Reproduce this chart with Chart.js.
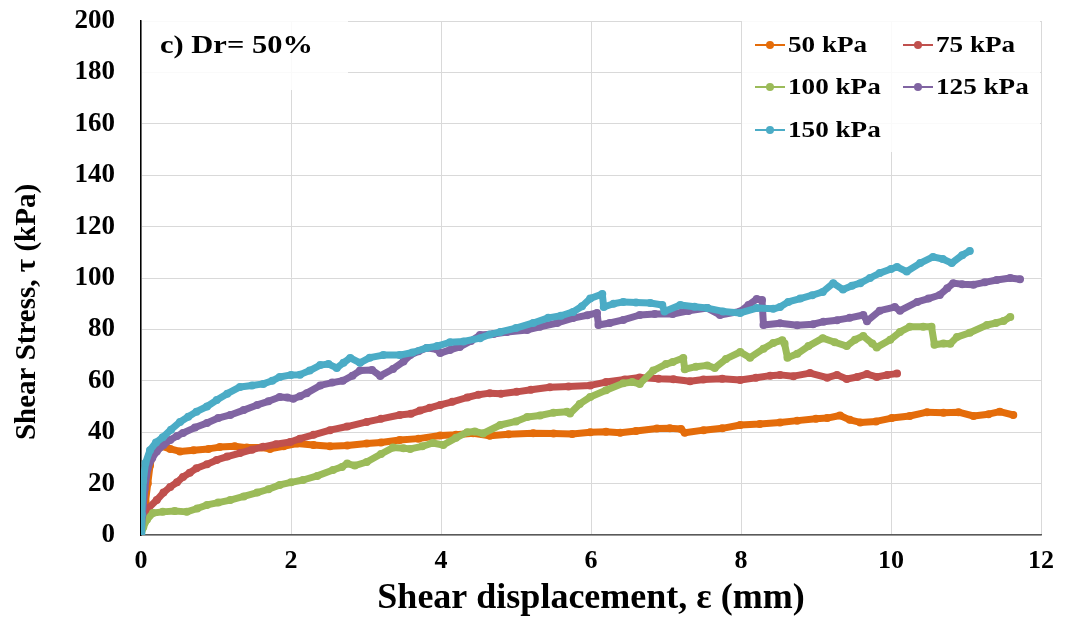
<!DOCTYPE html>
<html>
<head>
<meta charset="utf-8">
<script src="https://cdn.jsdelivr.net/npm/chart.js@4.4.1/dist/chart.umd.min.js"></script>
<style>
  body { margin: 0; background: #fff; }
  canvas { display: block; }
</style>
</head>
<body>
<canvas id="myChart" width="1066" height="617"></canvas>
<script>
// shear displacement (mm), shear stress (kPa)
const s50 = [[0,0],[0.03,6],[0.06,13],[0.09,20],[0.12,27],[0.15,31],[0.2,33.5],[0.28,34.5],[0.39,33.5],[0.52,32.5],
  [0.7,33],[0.9,33.5],[1.05,34.2],[1.25,34.5],[1.41,34],[1.6,34],[1.72,33.5],[1.9,34.5],[2.08,35.6],[2.3,35],
  [2.52,34.5],[2.75,34.8],[3.01,35.6],[3.2,36],[3.45,37],[3.7,37.5],[3.99,38.7],[4.2,39],[4.43,39.6],[4.65,38.6],
  [4.9,39.2],[5.23,39.6],[5.5,39.5],[5.75,39.3],[5.99,40],[6.2,40.2],[6.39,39.8],[6.6,40.5],[6.88,41.4],[7.05,41.5],
  [7.2,41.2],[7.25,39.8],[7.5,40.8],[7.75,41.5],[7.99,42.8],[8.25,43.2],[8.52,43.8],[8.75,44.5],[9.0,45.2],[9.15,45.5],
  [9.32,46.5],[9.45,44.8],[9.59,43.8],[9.8,44.2],[10.01,45.5],[10.25,46.3],[10.48,47.8],[10.7,47.6],[10.9,47.8],[11.1,46.3],
  [11.3,47],[11.45,48],[11.63,46.7]];

const s75 = [[0,0],[0.02,5],[0.05,8],[0.1,10.5],[0.21,13.6],[0.3,16.5],[0.39,18.7],[0.48,20.5],[0.56,22.6],[0.65,24.2],
  [0.74,26],[0.88,27.5],[1.01,29.2],[1.15,30.5],[1.32,31.9],[1.48,33.2],[1.63,34.3],[1.8,35.3],[1.99,36.2],[2.12,37.5],
  [2.3,39],[2.52,40.8],[2.75,42.2],[3.01,44],[3.2,45.2],[3.45,46.7],[3.6,47.2],[3.72,48.4],[3.85,49.5],[3.99,50.6],
  [4.15,51.8],[4.35,53.5],[4.5,54.6],[4.65,55.2],[4.8,55],[5.01,55.7],[5.2,56.5],[5.45,57.5],[5.7,57.8],[5.99,58.2],
  [6.2,59.5],[6.45,60.5],[6.65,61.3],[6.9,60.8],[7.1,60.6],[7.32,59.8],[7.5,60.5],[7.75,60.8],[7.99,60.3],[8.2,61.2],
  [8.39,62],[8.52,62.3],[8.7,61.8],[8.92,63],[9.15,61.2],[9.28,62.3],[9.41,60.7],[9.55,61.5],[9.68,62.6],[9.81,61.5],
  [9.95,62.3],[10.08,62.8]];

const s100 = [[0,0],[0.03,3],[0.08,6],[0.16,8.6],[0.29,9],[0.45,9.3],[0.61,9],[0.75,10.3],[0.88,11.7],[1.03,12.6],
  [1.19,13.6],[1.37,15],[1.55,16.5],[1.7,17.8],[1.85,19.5],[2.0,20.5],[2.16,21.4],[2.35,23],[2.56,25.3],[2.68,26.5],
  [2.75,27.8],[2.85,27],[3.01,28.4],[3.2,31.5],[3.36,34],[3.5,33.8],[3.59,33.5],[3.75,34.5],[3.89,35.8],[4.03,35],
  [4.2,37.8],[4.35,40],[4.45,40.3],[4.56,39.5],[4.79,42.8],[5.0,44.2],[5.15,45.9],[5.32,46.5],[5.5,47.6],[5.68,48],
  [5.72,47.3],[5.85,51],[5.99,53.7],[6.2,56.3],[6.43,59],[6.55,59.5],[6.65,58.8],[6.83,64],[7.0,66.5],[7.09,67.3],
  [7.23,68.9],[7.25,64.5],[7.4,65.5],[7.55,66],[7.65,65],[7.8,68.5],[7.99,71.2],[8.12,69],[8.3,72.5],[8.43,74.7],
  [8.55,75.8],[8.58,74.5],[8.62,69],[8.75,70.5],[8.9,73.5],[9.09,76.6],[9.25,75],[9.41,73.5],[9.52,76],[9.63,77.4],
  [9.75,74.5],[9.81,73],[9.99,76],[10.12,79],[10.25,81],[10.43,81],[10.54,81],[10.58,74],[10.7,74.5],[10.79,74.4],
  [10.88,77],[11.05,78.7],[11.28,81.7],[11.4,82.5],[11.5,83.3],[11.59,84.8]];

const s125 = [[0,0],[0.02,8],[0.05,18],[0.09,26],[0.15,30],[0.21,32.5],[0.3,35],[0.39,37],[0.48,38.5],[0.56,39.7],
  [0.72,41.8],[0.88,43.6],[1.03,45.5],[1.19,46.7],[1.37,48.6],[1.55,50.6],[1.7,52],[1.85,53.7],[1.95,53.5],[2.03,53],
  [2.12,54],[2.21,55.2],[2.39,58.2],[2.55,59.3],[2.69,60],[2.82,62],[2.92,64],[3.08,64.2],[3.19,61.9],[3.36,64.6],
  [3.5,67.5],[3.59,70],[3.7,71.5],[3.81,72.8],[3.95,72.2],[3.99,70.8],[4.12,72],[4.25,73.2],[4.4,75.5],[4.52,77.8],
  [4.7,78.2],[4.88,79],[5.15,79.8],[5.32,81],[5.55,82.5],[5.76,84.4],[5.95,85.5],[6.08,86.4],[6.1,81.7],[6.25,82.5],
  [6.43,83.7],[6.65,85.6],[6.85,86],[7.09,86],[7.3,87.2],[7.55,88.3],[7.72,85.6],[7.99,87],[8.1,89.5],[8.21,91.8],
  [8.28,91.4],[8.3,81.7],[8.52,82.4],[8.75,81.6],[8.96,82],[9.1,83],[9.28,83.6],[9.45,84.5],[9.63,85.6],[9.68,83.2],
  [9.85,87.3],[10.05,88.7],[10.12,87.3],[10.35,90.7],[10.5,92],[10.65,93.4],[10.75,96],[10.83,98],[10.95,97.6],[11.1,97.4],
  [11.25,98.3],[11.41,99.2],[11.59,100],[11.72,99.5]];

const s150 = [[0,0],[0.01,8],[0.03,21],[0.06,28],[0.12,33],[0.2,36],[0.29,38],[0.4,41],[0.52,44],[0.63,46],
  [0.74,48],[0.88,50],[1.01,52.5],[1.15,55],[1.32,57.6],[1.48,58.2],[1.63,58.8],[1.75,60],[1.85,61.5],[2.0,62.3],
  [2.12,62.4],[2.25,64],[2.39,66.1],[2.5,66.5],[2.61,65],[2.7,67],[2.79,68.9],[2.92,67],[3.05,69],[3.23,70],
  [3.45,70],[3.62,71],[3.81,72.8],[3.95,73.5],[4.12,75],[4.3,75.3],[4.52,76.6],[4.65,78],[4.79,79],[5.0,80.5],
  [5.23,82.5],[5.43,84.5],[5.6,85.3],[5.76,86.8],[5.88,89],[5.99,92],[6.15,93.8],[6.17,88.7],[6.3,90],[6.43,90.7],
  [6.6,90.5],[6.79,90.3],[6.95,89.5],[6.98,87],[7.19,89.5],[7.38,88.8],[7.55,88.3],[7.76,87],[7.99,86.4],[8.21,88.3],
  [8.43,88],[8.52,88.7],[8.63,90.7],[8.79,92],[8.95,93.3],[9.09,94.6],[9.23,98],[9.36,95.5],[9.48,97],[9.59,98],
  [9.72,100],[9.85,101.9],[10.0,103.5],[10.08,104.3],[10.21,102.5],[10.39,105.8],[10.56,108.2],[10.69,107.4],[10.81,105.8],[10.95,108.9],
  [11.05,110.5]];

const labels = ["50 kPa", "75 kPa", "100 kPa", "125 kPa", "150 kPa"];
const colors = ["#E46C0A", "#C0504D", "#9BBB59", "#8064A2", "#4BACC6"];
const series = [s50, s75, s100, s125, s150];

const serif = "'Liberation Serif', 'Times New Roman', serif";

const datasets = series.map((s, i) => ({
    label: labels[i],
    data: s.map(p => ({ x: p[0], y: p[1] })),
    borderColor: colors[i],
    backgroundColor: colors[i],
    borderWidth: 7,
    pointRadius: 4,
    pointBorderWidth: 0,
    pointBackgroundColor: colors[i],
    borderJoinStyle: 'round',
    borderCapStyle: 'round',
    tension: 0,
    order: series.length - i
}));

// text drawn a bit wider than the font, like the picture
function wideText(ctx, text, x, y, sx) {
    ctx.save();
    ctx.translate(x, y);
    ctx.scale(sx, 1);
    ctx.fillText(text, 0, 0);
    ctx.restore();
}

// white boxes behind the note and the legend, then the texts
const boxes = {
    id: 'boxes',
    beforeDatasetsDraw(chart) {
        const ctx = chart.ctx;
        ctx.save();
        ctx.fillStyle = 'rgba(255,255,255,0.85)';
        ctx.fillRect(142, 21, 206, 69);
        ctx.fillRect(742, 21, 298, 131);
        ctx.restore();
    },
    afterDraw(chart) {
        const ctx = chart.ctx;
        ctx.save();
        ctx.fillStyle = '#000';
        ctx.textBaseline = 'middle';
        ctx.font = "bold 25px " + serif;
        wideText(ctx, "c) Dr= 50%", 160, 47, 1.22);

        const cols = [755, 903];
        const rows = [45, 87, 130];
        ctx.font = "bold 23px " + serif;
        labels.forEach((lab, i) => {
            const x = cols[i % 2];
            const y = rows[Math.floor(i / 2)];
            ctx.strokeStyle = colors[i];
            ctx.lineWidth = 2;
            ctx.beginPath();
            ctx.moveTo(x, y);
            ctx.lineTo(x + 30, y);
            ctx.stroke();
            ctx.fillStyle = colors[i];
            ctx.beginPath();
            ctx.arc(x + 15, y, 4, 0, Math.PI * 2);
            ctx.fill();
            ctx.fillStyle = '#000';
            wideText(ctx, lab, x + 33, y + 1, 1.18);
        });

        // y axis title
        ctx.save();
        ctx.translate(28, 312);
        ctx.rotate(-Math.PI / 2);
        ctx.textAlign = 'center';
        ctx.font = "bold 29px " + serif;
        ctx.fillStyle = '#000';
        ctx.fillText("Shear Stress, τ (kPa)", 0, 0);
        ctx.restore();
        ctx.restore();
    }
};

const ctx = document.getElementById('myChart').getContext('2d');
const myChart = new Chart(ctx, {
    type: 'line',
    data: { datasets: datasets },
    plugins: [boxes],
    options: {
        responsive: false,
        animation: false,
        layout: { padding: { top: 21, right: 25, left: 0, bottom: 0 } },
        plugins: {
            legend: { display: false },
            tooltip: { enabled: false }
        },
        scales: {
            x: {
                type: 'linear',
                min: 0,
                max: 12,
                ticks: { stepSize: 2, color: '#000', padding: 11, font: { family: serif, size: 26, weight: 'bold' } },
                grid: { color: '#d9d9d9', lineWidth: 1, drawTicks: false },
                border: { color: '#595959', width: 1.5 },
                title: {
                    display: true,
                    text: 'Shear displacement, ε (mm)',
                    color: '#000',
                    font: { family: serif, size: 36, weight: 'bold', lineHeight: 1 },
                    padding: { top: 0, bottom: 0 }
                },
                afterFit: (scale) => { scale.height = 82; }
            },
            y: {
                min: 0,
                max: 200,
                ticks: { stepSize: 20, color: '#000', padding: 26, font: { family: serif, size: 27, weight: 'bold' } },
                grid: { color: '#d9d9d9', lineWidth: 1, drawTicks: false },
                border: { color: '#000', width: 1.5 },
                afterFit: (scale) => {
                    scale.width = 141;
                    scale.paddingTop = 0;
                    scale.paddingBottom = 0;
                }
            }
        }
    }
});
</script>
</body>
</html>
